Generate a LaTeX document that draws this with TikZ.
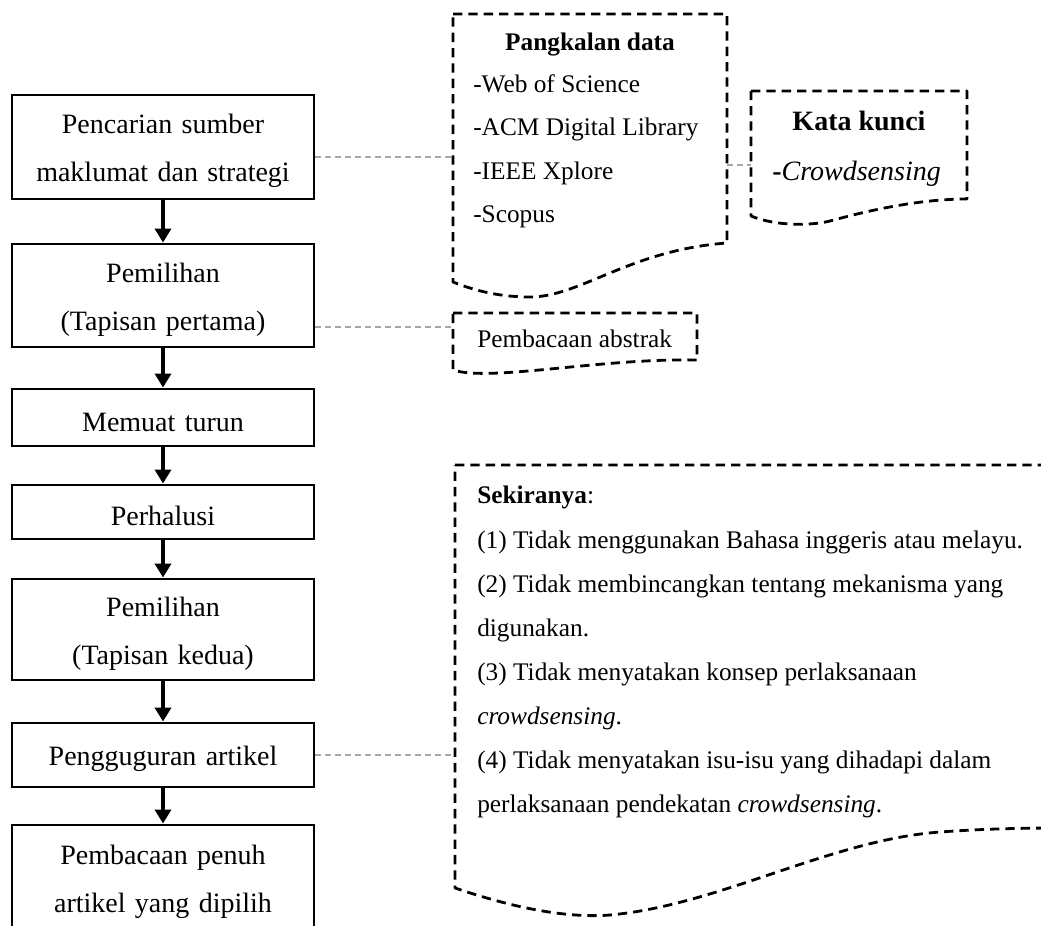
\documentclass[tikz,border=0pt]{standalone}
\usepackage{fontspec}
\setmainfont{Liberation Serif}
\usetikzlibrary{arrows.meta}
\newcommand{\Lstrut}{\rule{0pt}{21pt}}
\begin{document}
\begin{tikzpicture}[x=0.75pt,y=-0.75pt,
  stepbox/.style={draw=black, line width=2.2pt, rectangle, minimum width=226.5pt, inner sep=0pt, align=center, text width=220pt, font=\fontsize{21}{36}\selectfont},
  flow/.style={line width=2.8pt, -{Triangle[width=12pt,length=10.5pt]}},
  docline/.style={line width=2.1pt, dash pattern=on 7pt off 4.5pt, line join=round},
  link/.style={draw=black!35, line width=0.8pt, dash pattern=on 4.5pt off 3pt},
  rtxt/.style={anchor=west, inner sep=0pt, yshift=-3pt, font=\fontsize{19}{23}\selectfont, text height=0.7em, text depth=0.2em},
  ttl/.style={inner sep=0pt, yshift=-3.5pt, font=\bfseries\fontsize{19}{23}\selectfont, text height=0.7em, text depth=0.2em},
]
\useasboundingbox (0,0) rectangle (1041,925);
\clip (0,0) rectangle (1041,925);

% flow boxes
\node[stepbox, minimum height=78pt]    (b1) at (163,147)   {\Lstrut Pencarian sumber\\maklumat dan strategi};
\node[stepbox, minimum height=77.25pt] (b2) at (163,295.5) {\Lstrut Pemilihan\\(Tapisan pertama)};
\node[stepbox, minimum height=42.75pt] (b3) at (163,417.5) {\Lstrut Memuat turun};
\node[stepbox, minimum height=40.5pt]  (b4) at (163,512)   {\Lstrut Perhalusi};
\node[stepbox, minimum height=75.75pt] (b5) at (163,629.5) {\Lstrut Pemilihan\\(Tapisan kedua)};
\node[stepbox, minimum height=48pt]    (b6) at (163,755)   {\Lstrut Pengguguran artikel};
\node[stepbox, minimum height=79.5pt]  (b7) at (163,878)   {\Lstrut Pembacaan penuh\\artikel yang dipilih};

\draw[flow] (b1.south) -- (b2.north);
\draw[flow] (b2.south) -- (b3.north);
\draw[flow] (b3.south) -- (b4.north);
\draw[flow] (b4.south) -- (b5.north);
\draw[flow] (b5.south) -- (b6.north);
\draw[flow] (b6.south) -- (b7.north);

% document shapes
\draw[docline] (453,14) -- (727,14) -- (727,243)
  .. controls (630,250) and (580,297) .. (530,297)
  .. controls (503,297) and (478,292) .. (453,282) -- cycle;
\draw[docline] (751,91) -- (967,91) -- (967,199)
  .. controls (920,199) and (870,210) .. (830,221)
  .. controls (810,226) and (775,226) .. (751,216) -- cycle;
\draw[docline] (453,313) -- (697,313) -- (697,360)
  .. controls (600,358) and (490,382) .. (453,370) -- cycle;
\draw[docline] (455,465) -- (1090,465) -- (1090,828) -- (1060,828)
  .. controls (1020,828) and (980,829) .. (940,832)
  .. controls (830,840) and (720,905) .. (610,915)
  .. controls (570,918) and (520,910) .. (455,888) -- cycle;

\coordinate (pkL) at (453,157);
\coordinate (pkR) at (727,165);
\coordinate (kkL) at (751,165);
\coordinate (abL) at (453,327);
\coordinate (skL) at (455,755);

% texts in documents
\node[ttl] (pkT) at (590,42) {Pangkalan data};
\node[rtxt] (pk1) at (473,85)  {-Web of Science};
\node[rtxt] (pk2) at (473,128) {-ACM Digital Library};
\node[rtxt] (pk3) at (473,172) {-IEEE Xplore};
\node[rtxt] (pk4) at (473,215) {-Scopus};

\node[ttl, yshift=-1.5pt, font=\bfseries\fontsize{21}{25}\selectfont] (kkT) at (859,120) {Kata kunci};
\node[rtxt, yshift=-2pt, font=\fontsize{21}{25}\selectfont] (kk1) at (772,170) {\textbf{-}\textit{Crowdsensing}};

\node[rtxt] (ab1) at (477,340) {Pembacaan abstrak};

\node[rtxt] (sk0) at (477,496) {\textbf{Sekiranya}:};
\node[rtxt] (sk1) at (477,541) {(1) Tidak menggunakan Bahasa inggeris atau melayu.};
\node[rtxt] (sk2) at (477,585) {(2) Tidak membincangkan tentang mekanisma yang};
\node[rtxt] (sk3) at (477,629) {digunakan.};
\node[rtxt] (sk4) at (477,673) {(3) Tidak menyatakan konsep perlaksanaan};
\node[rtxt] (sk5) at (477,717) {\textit{crowdsensing}.};
\node[rtxt] (sk6) at (477,761) {(4) Tidak menyatakan isu-isu yang dihadapi dalam};
\node[rtxt] (sk7) at (477,805) {perlaksanaan pendekatan \textit{crowdsensing}.};

% grey dashed links
\draw[link] (b1.east |- pkL) -- (pkL);
\draw[link] (pkR) -- (kkL);
\draw[link] (b2.east |- abL) -- (abL);
\draw[link] (b6.east |- skL) -- (skL);
\end{tikzpicture}
\end{document}
